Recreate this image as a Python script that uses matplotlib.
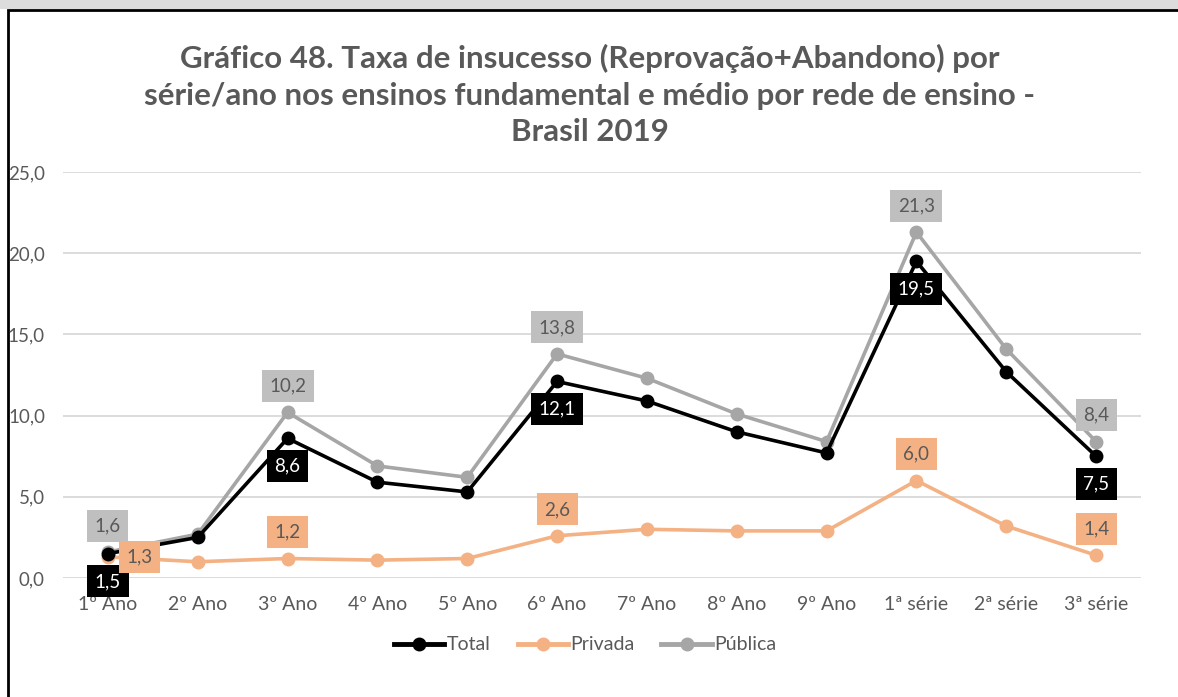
import matplotlib
matplotlib.use('Agg')
import matplotlib.pyplot as plt
from matplotlib.patches import Rectangle

plt.rcParams['font.family'] = ['Lato', 'DejaVu Sans']

# Data
categories = ['1º Ano', '2º Ano', '3º Ano', '4º Ano', '5º Ano', '6º Ano',
              '7º Ano', '8º Ano', '9º Ano', '1ª série', '2ª série', '3ª série']
total = [1.5, 2.5, 8.6, 5.9, 5.3, 12.1, 10.9, 9.0, 7.7, 19.5, 12.7, 7.5]
privada = [1.3, 1.0, 1.2, 1.1, 1.2, 2.6, 3.0, 2.9, 2.9, 6.0, 3.2, 1.4]
publica = [1.6, 2.7, 10.2, 6.9, 6.2, 13.8, 12.3, 10.1, 8.4, 21.3, 14.1, 8.4]
labeled = [0, 2, 5, 9, 11]
yticks = [0, 5, 10, 15, 20, 25]

text_color = '#595959'
c_total = '#000000'
c_priv = '#f4b183'
c_pub = '#a6a6a6'

fig = plt.figure(figsize=(11.78, 6.97), dpi=100)
W, H = 1178, 697

# page background strip and frame
fig.patches.append(Rectangle((0, 1 - 9 / H), 1, 9 / H, transform=fig.transFigure,
                             facecolor='#dcdcdc', edgecolor='none', zorder=-2))
fig.patches.append(Rectangle((8 / W, -0.05), 1.2, 1 - 10 / H + 0.05, transform=fig.transFigure,
                             facecolor='white', edgecolor='black', linewidth=2, zorder=-1))

ax = fig.add_axes([63 / W, 1 - 578 / H, (1141 - 63) / W, (578 - 172) / H])
ax.set_facecolor('none')
x = list(range(len(categories)))

ax.plot(x, publica, color=c_pub, lw=2.6, marker='o', ms=9, label='Pública', zorder=3)
ax.plot(x, privada, color=c_priv, lw=2.6, marker='o', ms=9, label='Privada', zorder=3)
ax.plot(x, total, color=c_total, lw=2.6, marker='o', ms=9, label='Total', zorder=4)

def fmt(v):
    return f'{v:.1f}'.replace('.', ',')

lab_fs = 13.5
box = 'square,pad=0.4'
for i in labeled:
    ax.annotate(fmt(publica[i]), (i, publica[i]), xytext=(0, 19), textcoords='offset points',
                ha='center', va='center', fontsize=lab_fs, color=text_color, zorder=6,
                bbox=dict(boxstyle=box, fc='#bfbfbf', ec='none'))
    ax.annotate(fmt(total[i]), (i, total[i]), xytext=(0, -20), textcoords='offset points',
                ha='center', va='center', fontsize=lab_fs, color='white', zorder=6,
                bbox=dict(boxstyle=box, fc='black', ec='none'))
    off = (23, 0) if i == 0 else (0, 19)
    ax.annotate(fmt(privada[i]), (i, privada[i]), xytext=off, textcoords='offset points',
                ha='center', va='center', fontsize=lab_fs, color=text_color, zorder=6,
                bbox=dict(boxstyle=box, fc=c_priv, ec='none'))

ax.set_xlim(-0.5, len(categories) - 0.5)
ax.set_ylim(0, 25)
ax.set_yticks(yticks)
ax.set_yticklabels([fmt(v) for v in yticks])
ax.set_xticks(x)
ax.set_xticklabels(categories)
ax.tick_params(axis='both', length=0, labelsize=14, colors=text_color)
ax.tick_params(axis='y', pad=13, labelsize=13.5)
ax.tick_params(axis='x', pad=13)
for s in ax.spines.values():
    s.set_visible(False)
ax.grid(axis='y', color='#d9d9d9', lw=1.3, zorder=0)
ax.set_axisbelow(True)

handles, labels = ax.get_legend_handles_labels()
order = [2, 1, 0]
leg = fig.legend([handles[k] for k in order], [labels[k] for k in order],
                 loc='center', bbox_to_anchor=(585 / W, 1 - 645 / H), ncol=3, frameon=False,
                 fontsize=14, labelcolor=text_color, handlelength=2.6, handletextpad=0.1,
                 columnspacing=1.4)
for ln in leg.get_lines():
    ln.set_linewidth(3.5)

fig.text(590 / W, 1 - 95 / H,
         'Gráfico 48. Taxa de insucesso (Reprovação+Abandono) por\n'
         'série/ano nos ensinos fundamental e médio por rede de ensino -\n'
         'Brasil 2019',
         ha='center', va='center', fontsize=22.5, fontweight='bold', color=text_color,
         linespacing=1.36)

fig.savefig('out.png', dpi=100)
